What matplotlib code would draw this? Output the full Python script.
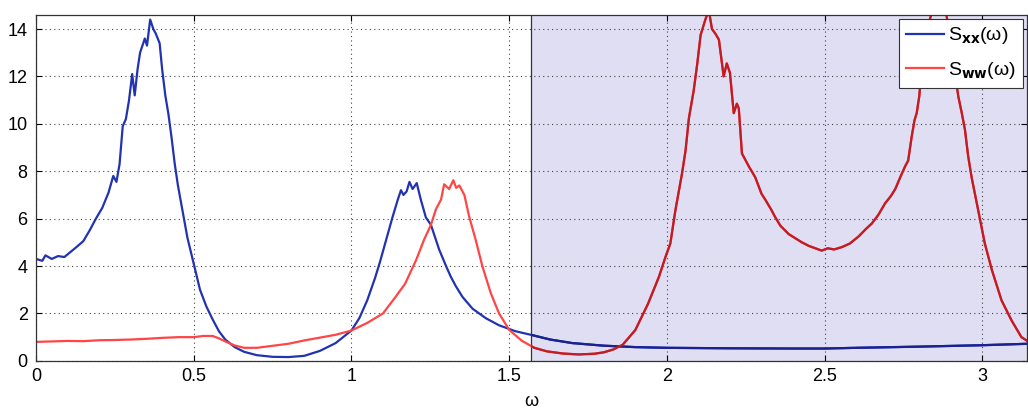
import numpy as np
import matplotlib
matplotlib.use("Agg")
import matplotlib.pyplot as plt

plt.rcParams['font.family'] = ['Liberation Sans', 'DejaVu Sans']

# S_xx(omega)
omega_xx = [0.00, 0.02, 0.03, 0.05, 0.07, 0.09, 0.11, 0.13, 0.15, 0.17, 0.19, 0.21,
            0.23, 0.245, 0.255, 0.265, 0.275, 0.285, 0.295, 0.305, 0.313, 0.322, 0.33,
            0.345, 0.352, 0.362, 0.372, 0.38, 0.392, 0.40, 0.41, 0.42, 0.43, 0.44, 0.45,
            0.465, 0.48, 0.50, 0.52, 0.54, 0.56, 0.58, 0.60, 0.63, 0.66, 0.70, 0.75,
            0.80, 0.85, 0.90, 0.95, 1.00, 1.025, 1.05, 1.075, 1.09, 1.11, 1.13, 1.147,
            1.157, 1.165, 1.175, 1.184, 1.194, 1.207, 1.22, 1.236, 1.252, 1.278, 1.30,
            1.315, 1.331, 1.352, 1.384, 1.426, 1.468, 1.52, 1.575, 1.63, 1.70, 1.80,
            1.90, 2.00, 2.20, 2.40, 2.50, 2.60, 2.80, 3.00, 3.1416]
s_xx = [4.30, 4.22, 4.45, 4.30, 4.42, 4.38, 4.60, 4.82, 5.05, 5.50, 6.00, 6.45,
        7.10, 7.80, 7.55, 8.30, 9.90, 10.2, 11.0, 12.1, 11.2, 12.3, 13.0,
        13.6, 13.3, 14.4, 14.0, 13.8, 13.4, 12.3, 11.2, 10.4, 9.4, 8.3, 7.4,
        6.3, 5.2, 4.1, 3.0, 2.3, 1.75, 1.25, 0.90, 0.58, 0.38, 0.24, 0.17,
        0.16, 0.21, 0.42, 0.75, 1.28, 1.80, 2.55, 3.50, 4.15, 5.10, 6.05, 6.80,
        7.20, 7.00, 7.15, 7.55, 7.25, 7.50, 6.80, 6.05, 5.74, 4.70, 4.00,
        3.55, 3.15, 2.70, 2.20, 1.80, 1.50, 1.25, 1.08, 0.90, 0.75, 0.64,
        0.58, 0.55, 0.53, 0.52, 0.52, 0.55, 0.60, 0.66, 0.72]

# S_ww(omega)
omega_ww = [0.00, 0.05, 0.10, 0.15, 0.20, 0.25, 0.30, 0.35, 0.40, 0.45, 0.50, 0.53,
            0.56, 0.58, 0.60, 0.63, 0.66, 0.70, 0.76, 0.80, 0.85, 0.90, 0.95, 1.00,
            1.05, 1.10, 1.14, 1.17, 1.205, 1.23, 1.252, 1.268, 1.284, 1.294, 1.31,
            1.323, 1.332, 1.342, 1.358, 1.373, 1.394, 1.415, 1.442, 1.468, 1.50, 1.54,
            1.58, 1.62, 1.67, 1.72, 1.77, 1.80, 1.83, 1.86, 1.90, 1.94, 1.975, 1.996,
            2.011, 2.027, 2.048, 2.059, 2.07, 2.085, 2.096, 2.107, 2.122, 2.133, 2.143,
            2.154, 2.165, 2.18, 2.19, 2.20, 2.212, 2.222, 2.228, 2.238, 2.25, 2.26,
            2.28, 2.30, 2.312, 2.33, 2.344, 2.36, 2.386, 2.41, 2.428, 2.45, 2.47,
            2.491, 2.51, 2.53, 2.555, 2.58, 2.608, 2.63, 2.65, 2.67, 2.692, 2.71,
            2.724, 2.74, 2.755, 2.765, 2.776, 2.785, 2.792, 2.80, 2.81, 2.82, 2.83,
            2.845, 2.865, 2.88, 2.90, 2.914, 2.924, 2.935, 2.945, 2.955, 2.966, 2.987,
            3.008, 3.03, 3.061, 3.093, 3.124, 3.1416]
s_ww = [0.80, 0.82, 0.84, 0.83, 0.87, 0.88, 0.90, 0.93, 0.97, 1.00, 1.00, 1.05,
        1.05, 0.95, 0.82, 0.65, 0.55, 0.55, 0.65, 0.72, 0.86, 0.98, 1.10, 1.28,
        1.60, 2.00, 2.70, 3.25, 4.25, 5.10, 5.74, 6.40, 6.80, 7.45, 7.25,
        7.62, 7.30, 7.40, 7.00, 6.10, 5.10, 4.00, 2.85, 2.00, 1.31, 0.85,
        0.55, 0.40, 0.31, 0.27, 0.30, 0.36, 0.48, 0.68, 1.30, 2.40, 3.55, 4.40,
        4.95, 6.35, 7.90, 8.85, 10.25, 11.4, 12.5, 13.75, 14.4, 14.8, 14.0,
        13.8, 13.55, 12.0, 12.55, 12.15, 10.45, 10.85, 10.65, 8.75, 8.45, 8.2,
        7.75, 7.05, 6.8, 6.4, 6.05, 5.7, 5.35, 5.15, 5.0, 4.85, 4.75,
        4.65, 4.75, 4.7, 4.8, 4.95, 5.25, 5.55, 5.8, 6.15, 6.65, 6.95,
        7.25, 7.75, 8.2, 8.45, 9.45, 10.15, 10.45, 11.15, 12.65, 13.45, 14.25,
        14.9, 15.2, 15.1, 13.5, 12.05, 11.15, 10.45, 9.75, 8.65, 7.75, 6.35,
        4.95, 3.85, 2.55, 1.7, 1.0, 0.85]

xticks = [0, 0.5, 1, 1.5, 2, 2.5, 3]
xtick_labels = ['0', '0.5', '1', '1.5', '2', '2.5', '3']
yticks = [0, 2, 4, 6, 8, 10, 12, 14]

fig = plt.figure(figsize=(10.28, 4.11), dpi=100, facecolor='white')
ax = fig.add_axes([0.035, 0.122, 0.964, 0.842])

span = ax.axvspan(np.pi / 2, np.pi, facecolor='#dfdef3', edgecolor='none', zorder=0.1)
ax.axvline(np.pi / 2, color='#333333', linewidth=0.9, zorder=1)

ax.plot(omega_xx, s_xx, color='#2233b0', linewidth=1.6, label=r'S$_{\mathbf{xx}}$(ω)')
ax.plot(omega_ww, s_ww, color='#ff4545', linewidth=1.6, label=r'S$_{\mathbf{ww}}$(ω)')

# darker look of the curves under the shaded half
dark_xx, = ax.plot(omega_xx, s_xx, color='#1a2290', linewidth=1.6)
dark_ww, = ax.plot(omega_ww, s_ww, color='#c01c26', linewidth=1.6)
dark_xx.set_clip_path(span)
dark_ww.set_clip_path(span)

ax.set_xlim(0, np.pi)
ax.set_ylim(0, 14.6)
ax.set_xticks(xticks)
ax.set_xticklabels(xtick_labels)
ax.set_yticks(yticks)
ax.tick_params(direction='in', length=4, width=0.8, labelsize=13, top=True, right=True)
ax.tick_params(axis='x', pad=5)
ax.tick_params(axis='y', pad=6)
ax.set_axisbelow(True)
ax.grid(True, linestyle=(0, (1, 3)), color='#444444', linewidth=0.8)
for s in ax.spines.values():
    s.set_linewidth(0.9)
    s.set_color('#333333')

ax.set_xlabel('ω', fontsize=13, labelpad=6)

leg = ax.legend(loc='upper right', fontsize=14, frameon=True, fancybox=False,
                borderaxespad=0.2, handlelength=2.0, handletextpad=0.2,
                labelspacing=0.7, borderpad=0.35)
leg.get_frame().set_edgecolor('#333333')
leg.get_frame().set_linewidth(0.8)
leg.get_frame().set_alpha(1)

fig.savefig('out.png', dpi=100)
